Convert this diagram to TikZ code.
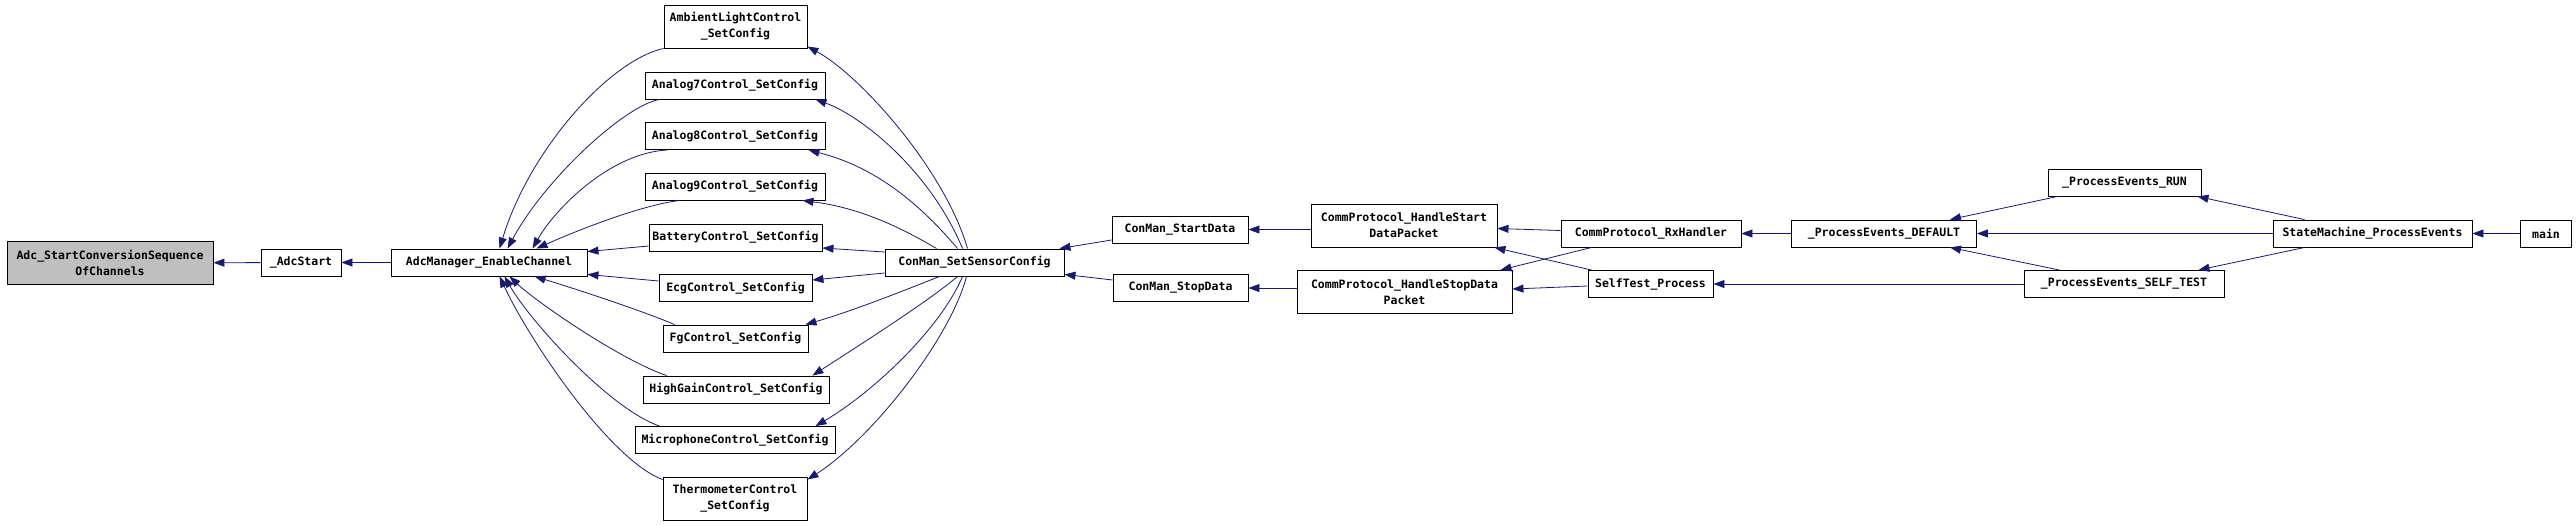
\documentclass[tikz,border=0pt]{standalone}
\usepackage{fontspec}
\setmonofont{DejaVu Sans Mono}
\usetikzlibrary{arrows.meta}
\definecolor{edgeblue}{HTML}{191970}
\definecolor{rootgray}{HTML}{BFBFBF}

\begin{document}
\begin{tikzpicture}[
  x=1pt,y=-1pt,
  >={Triangle[length=11pt,width=8pt]},
  fn/.style={draw,rectangle,inner sep=0pt,minimum height=27pt,line width=0.9pt,
    font=\ttfamily\bfseries\fontsize{11.5}{16}\selectfont,align=center},
  fn2/.style={fn,minimum height=43pt},
  call/.style={->,draw=edgeblue,line width=0.8pt}
]
\useasboundingbox (0,0) rectangle (2576,525);
\node[fn2,fill=rootgray,minimum width=206] (root) at (110,263) {Adc\_StartConversionSequence\\OfChannels};
\node[fn,minimum width=80] (adcstart) at (301,262.5) {\_AdcStart};
\node[fn,minimum width=196] (mgr) at (489,262.5) {AdcManager\_EnableChannel};
\node[fn2,minimum width=143] (ambient) at (735.5,26.5) {AmbientLightControl\\\_SetConfig};
\node[fn,minimum width=180] (an7) at (735,85.5) {Analog7Control\_SetConfig};
\node[fn,minimum width=180] (an8) at (735,136) {Analog8Control\_SetConfig};
\node[fn,minimum width=180] (an9) at (735,186.5) {Analog9Control\_SetConfig};
\node[fn,minimum width=173] (batt) at (735.5,237.5) {BatteryControl\_SetConfig};
\node[fn,minimum width=153] (ecg) at (735.5,288) {EcgControl\_SetConfig};
\node[fn,minimum width=145] (fg) at (735.5,338.5) {FgControl\_SetConfig};
\node[fn,minimum width=186] (hg) at (736,389.5) {HighGainControl\_SetConfig};
\node[fn,minimum width=200] (mic) at (735,440) {MicrophoneControl\_SetConfig};
\node[fn2,minimum width=144] (therm) at (735,498.5) {ThermometerControl\\\_SetConfig};
\node[fn,minimum width=179] (setsens) at (974.5,262.5) {ConMan\_SetSensorConfig};
\node[fn,minimum width=136] (startdata) at (1180,229.5) {ConMan\_StartData};
\node[fn,minimum width=135] (stopdata) at (1180.5,288) {ConMan\_StopData};
\node[fn2,minimum width=186] (hstart) at (1404,225.5) {CommProtocol\_HandleStart\\DataPacket};
\node[fn2,minimum width=215] (hstop) at (1404.5,292) {CommProtocol\_HandleStopData\\Packet};
\node[fn,minimum width=180] (rx) at (1651,233.5) {CommProtocol\_RxHandler};
\node[fn,minimum width=125] (selftest) at (1650.5,284) {SelfTest\_Process};
\node[fn,minimum width=185] (dflt) at (1884,233.5) {\_ProcessEvents\_DEFAULT};
\node[fn,minimum width=153] (run) at (2124.5,182.5) {\_ProcessEvents\_RUN};
\node[fn,minimum width=200] (selft) at (2124,284) {\_ProcessEvents\_SELF\_TEST};
\node[fn,minimum width=199] (sm) at (2372.5,233.5) {StateMachine\_ProcessEvents};
\node[fn,minimum width=51] (mainfn) at (2546,233.5) {main};

\draw[call] (adcstart) -- (root);
\draw[call] (mgr) -- (adcstart);
\draw[call] (ambient.south west) .. controls +(-54,12) and +(30,-99) .. ([xshift=109]mgr.north west);
\draw[call] ([xshift=15]an7.south west) .. controls +(-35,6) and +(37,-69) .. ([xshift=117]mgr.north west);
\draw[call] ([xshift=23]an8.south west) .. controls +(-58,3) and +(22,-39) .. ([xshift=142]mgr.north west);
\draw[call] ([xshift=35]an9.south west) .. controls +(-40,5) and +(38,-17) .. ([xshift=146]mgr.north west);
\draw[call] ([yshift=-8.5]batt.west) -- ([yshift=-3]mgr.north east);
\draw[call] ([yshift=7]ecg.west) -- ([yshift=2]mgr.south east);
\draw[call] ([xshift=12]fg.north west) .. controls +(-35,-15) and +(30,9) .. ([xshift=144]mgr.south west);
\draw[call] ([xshift=24]hg.north west) .. controls +(-47,-16) and +(25,24) .. ([xshift=119]mgr.south west);
\draw[call] ([xshift=25]mic.north west) .. controls +(-50,-17) and +(25,44) .. ([xshift=114]mgr.south west);
\draw[call] ([yshift=-3]therm.north west) .. controls +(-53,-20) and +(30,64) .. ([xshift=109]mgr.south west);

\draw[call] ([xshift=83]setsens.north west) .. controls +(-23,-79) and +(53,29) .. ([yshift=2]ambient.south east);
\draw[call] ([xshift=78]setsens.north west) .. controls +(-33,-79) and +(45,16) .. ([xshift=-10]an7.south east);
\draw[call] ([xshift=73]setsens.north west) .. controls +(-58,-69) and +(42,11) .. ([xshift=-17]an8.south east);
\draw[call] ([xshift=52]setsens.north west) .. controls +(-57,-34) and +(38,5) .. ([xshift=-23]an9.south east);
\draw[call] ([yshift=10.5]setsens.west) -- ([yshift=-10.5]batt.east);
\draw[call] ([yshift=-10.5]setsens.west) -- ([yshift=8]ecg.east);
\draw[call] ([xshift=55]setsens.south west) .. controls +(-60,24) and +(35,-10) .. ([xshift=-3]fg.north east);
\draw[call] ([xshift=73]setsens.south west) .. controls +(-28,24) and +(48,-31) .. ([xshift=-17]hg.north east);
\draw[call] ([xshift=78]setsens.south west) .. controls +(-23,54) and +(55,-32) .. ([xshift=-20]mic.north east);
\draw[call] ([xshift=82]setsens.south west) .. controls +(-17,64) and +(63,-40) .. ([yshift=-3]therm.north east);

\draw[call] ([yshift=-10.5]startdata.west) -- ([xshift=-5]setsens.north east);
\draw[call] ([yshift=8]stopdata.west) -- ([yshift=2]setsens.south east);
\draw[call] (hstart.west |- startdata.west) -- (startdata.east);
\draw[call] (hstop.west |- stopdata.east) -- (stopdata.east);
\draw[call] ([yshift=3]rx.west) -- ([yshift=-3]hstart.east);
\draw[call] ([xshift=31]rx.south west) -- ([xshift=-12]hstop.north east);
\draw[call] ([xshift=4]selftest.north west) -- ([xshift=-3]hstart.south east);
\draw[call] ([yshift=-2]selftest.west) -- ([yshift=3]hstop.east);
\draw[call] (dflt) -- (rx);
\draw[call] (selft) -- (selftest);
\draw[call] ([xshift=10]run.south west) -- ([xshift=-27]dflt.north east);
\draw[call] ([xshift=36]selft.north west) -- ([xshift=-27]dflt.south east);
\draw[call] (sm) -- (dflt);
\draw[call] ([xshift=32]sm.north west) -- ([xshift=-4]run.south east);
\draw[call] ([xshift=32]sm.south west) -- ([xshift=-26]selft.north east);
\draw[call] (mainfn) -- (sm);
\end{tikzpicture}
\end{document}
